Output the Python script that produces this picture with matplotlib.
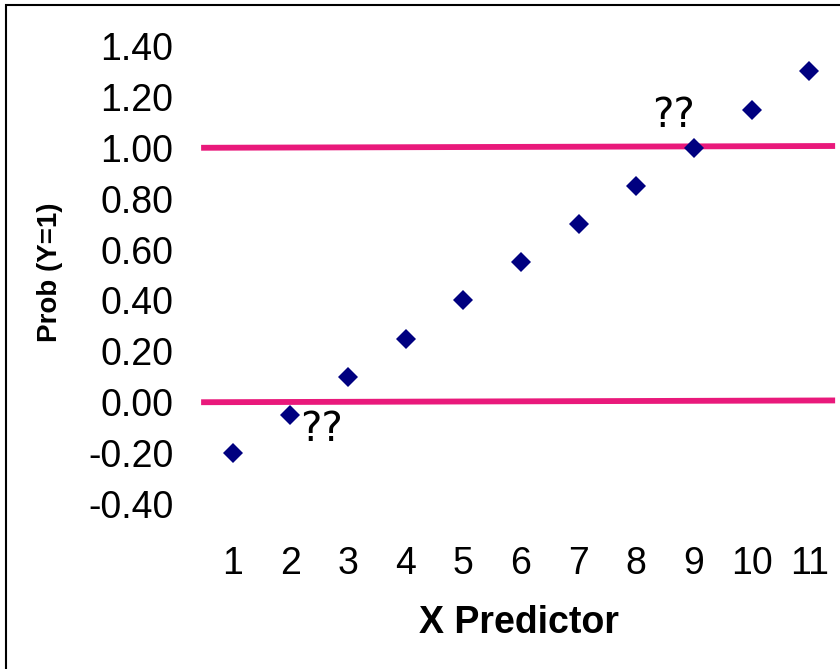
import matplotlib.pyplot as plt
from matplotlib import patches

# data
x_vals = [1, 2, 3, 4, 5, 6, 7, 8, 9, 10, 11]
prob_vals = [-0.20, -0.05, 0.10, 0.25, 0.40, 0.55, 0.70, 0.85, 1.00, 1.15, 1.30]
y_ticks = [-0.40, -0.20, 0.00, 0.20, 0.40, 0.60, 0.80, 1.00, 1.20, 1.40]
bound_x = [0.45, 11.45]
upper_bound = [1.000, 1.007]
lower_bound = [0.000, 0.007]
notes = [("??", 2.53, -0.11), ("??", 8.64, 1.126)]

PINK = "#E9197B"
NAVY = "#000080"


def main():
    plt.rcParams['font.family'] = ['Liberation Sans', 'DejaVu Sans']
    fig = plt.figure(figsize=(8.4, 6.69), dpi=100)
    ax = fig.add_axes([204 / 840, 1 - 504 / 669, 634 / 840, 458 / 669])

    # bounds at 0 and 1
    ax.plot(bound_x, upper_bound, color=PINK, lw=4.2, solid_capstyle='butt',
            clip_on=False, zorder=2)
    ax.plot(bound_x, lower_bound, color=PINK, lw=4.2, solid_capstyle='butt',
            clip_on=False, zorder=2)

    # linear probability points
    ax.plot(x_vals, prob_vals, 'D', color=NAVY, ms=10.5, mew=0,
            clip_on=False, zorder=3)

    for txt, tx, ty in notes:
        ax.text(tx, ty, txt, ha='center', va='center', fontsize=29,
                family='DejaVu Sans', zorder=4)

    ax.set_xlim(0.5, 11.5)
    ax.set_ylim(-0.4, 1.4)
    ax.set_xticks(x_vals)
    ax.set_xticklabels([str(v) for v in x_vals])
    ax.set_yticks(y_ticks)
    ax.set_yticklabels([f"{v:.2f}" for v in y_ticks])
    ax.tick_params(axis='both', length=0, labelsize=27)
    ax.tick_params(axis='x', pad=30)
    ax.tick_params(axis='y', pad=22)
    for s in ax.spines.values():
        s.set_visible(False)
    ax.patch.set_visible(False)

    fig.text(50 / 840, 1 - 272 / 669, "Prob (Y=1)", rotation=90,
             ha='center', va='center', fontsize=20, fontweight='bold')
    fig.text(519 / 840, 1 - 623 / 669, "X Predictor",
             ha='center', va='center', fontsize=27, fontweight='bold')

    # outer frame (right/bottom edges fall outside the image)
    frame = patches.Rectangle((6 / 840, -0.1), 1.2, 1 - 5 / 669 + 0.1,
                              transform=fig.transFigure, fill=False,
                              edgecolor='black', linewidth=1.5)
    fig.patches.append(frame)

    fig.savefig("out.png", dpi=100)


if __name__ == "__main__":
    main()
